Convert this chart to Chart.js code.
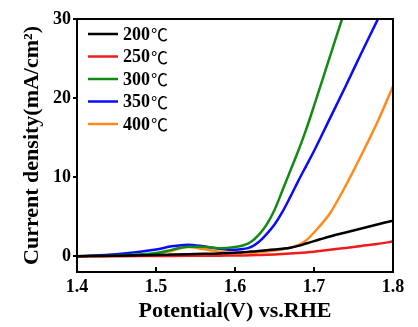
<!DOCTYPE html>
<html>
<head>
<meta charset="utf-8">
<script src="https://cdn.jsdelivr.net/npm/chart.js@4.4.1/dist/chart.umd.min.js"></script>
<style>
  html, body { margin: 0; padding: 0; background: #fff; }
  #wrap { width: 418px; height: 327px; }
</style>
</head>
<body>
<div id="wrap"><canvas id="lsv" width="418" height="327"></canvas></div>
<script>
// potential (V vs. RHE) sample points
var potential = [1.40, 1.45, 1.50, 1.52, 1.54, 1.56, 1.58, 1.60, 1.61, 1.62, 1.63, 1.64, 1.65, 1.66, 1.67, 1.68, 1.69, 1.70, 1.72, 1.74, 1.76, 1.78, 1.80];

// current density (mA/cm2)
var j200 = [0, 0.05, 0.15, 0.2, 0.25, 0.3, 0.35, 0.45, 0.5, 0.58, 0.65, 0.75, 0.85, 0.95, 1.08, 1.3, 1.6, 1.9, 2.5, 3.0, 3.5, 4.0, 4.5];
var j250 = [0, 0, 0.02, 0.03, 0.04, 0.05, 0.07, 0.09, 0.1, 0.12, 0.15, 0.18, 0.22, 0.27, 0.33, 0.4, 0.48, 0.57, 0.8, 1.05, 1.3, 1.55, 1.85];
var j300 = [0, 0.1, 0.4, 0.8, 1.2, 1.2, 1.0, 1.15, 1.35, 1.8, 2.7, 4.0, 5.85, 8.3, 10.8, 13.3, 16.0, 19.0, 25.2, 31.4, 37.6, 43.7, 50];
var j350 = [0, 0.25, 0.85, 1.25, 1.45, 1.25, 0.95, 0.8, 0.9, 1.15, 1.8, 2.8, 4.0, 5.6, 7.5, 9.5, 11.4, 13.3, 17.4, 21.5, 25.7, 29.8, 34];
var j400 = [0, 0.05, 0.3, 0.7, 1.15, 0.9, 0.55, 0.4, 0.42, 0.45, 0.52, 0.6, 0.72, 0.88, 1.08, 1.4, 2.0, 3.0, 5.4, 8.9, 12.8, 16.9, 21.5];

var seriesLabels = ['200\u2103', '250\u2103', '300\u2103', '350\u2103', '400\u2103'];
var seriesColours = ['#000000', '#ee1c1c', '#148a14', '#0a0aff', '#ff8a1c'];
var seriesValues = [j200, j250, j300, j350, j400];

var xTicks = [1.4, 1.5, 1.6, 1.7, 1.8];
var yTicks = [0, 10, 20, 30];

var serif = "'Liberation Serif', 'Times New Roman', serif";

function toPoints(values){
  return potential.map(function(v, i){ return {x: v, y: values[i]}; });
}

var datasets = seriesValues.map(function(values, i){
  return {
    label: seriesLabels[i],
    data: toPoints(values),
    borderColor: seriesColours[i],
    backgroundColor: seriesColours[i],
    borderWidth: 2.5,
    pointRadius: 0,
    cubicInterpolationMode: 'monotone',
    fill: false
  };
});

// box round the plot, inward x ticks, legend inside the plot
var framePlugin = {
  id: 'frame',
  afterDraw: function(chart){
    var ctx = chart.ctx;
    var area = chart.chartArea;
    var xs = chart.scales.x;
    ctx.save();
    ctx.strokeStyle = '#000';
    ctx.lineWidth = 2;
    ctx.strokeRect(area.left, area.top, area.right - area.left, area.bottom - area.top);

    ctx.beginPath();
    xs.ticks.forEach(function(t){
      var px = xs.getPixelForValue(t.value);
      ctx.moveTo(px, area.bottom);
      ctx.lineTo(px, area.bottom - 5);
    });
    ctx.stroke();

    ctx.textBaseline = 'middle';
    ctx.textAlign = 'left';
    chart.data.datasets.forEach(function(ds, i){
      var y = area.top + 15 + i * 22.5;
      var num = ds.label.replace('\u2103', '');
      ctx.strokeStyle = ds.borderColor;
      ctx.lineWidth = 2.5;
      ctx.beginPath();
      ctx.moveTo(area.left + 11, y);
      ctx.lineTo(area.left + 41, y);
      ctx.stroke();
      ctx.fillStyle = '#000';
      ctx.font = "bold 18px " + serif;
      ctx.fillText(num, area.left + 46, y + 1);
      var w = ctx.measureText(num).width;
      ctx.font = "17px 'Noto Sans CJK SC', 'DejaVu Sans'";
      ctx.fillText('\u2103', area.left + 47 + w, y + 1);
    });
    ctx.restore();
  }
};

new Chart(document.getElementById('lsv'), {
  type: 'line',
  data: {datasets: datasets},
  plugins: [framePlugin],
  options: {
    responsive: false,
    animation: false,
    layout: {padding: {top: 19, right: 25, left: 0, bottom: 0}},
    plugins: {
      legend: {display: false},
      tooltip: {enabled: false}
    },
    scales: {
      x: {
        type: 'linear',
        min: 1.4,
        max: 1.8,
        afterFit: function(scale){ scale.height = 55; },
        afterBuildTicks: function(scale){
          scale.ticks = xTicks.map(function(v){ return {value: v}; });
        },
        grid: {display: false, drawTicks: false},
        border: {display: false},
        ticks: {
          padding: 5,
          color: '#000',
          font: {family: serif, size: 18, weight: 'bold'},
          callback: function(v){ return v.toFixed(1); }
        },
        title: {
          display: true,
          text: 'Potential(V) vs.RHE',
          color: '#000',
          font: {family: serif, size: 22, weight: 'bold'},
          padding: {top: 0, bottom: 2}
        }
      },
      y: {
        min: -2,
        max: 30,
        afterFit: function(scale){ scale.width = 77; },
        afterBuildTicks: function(scale){
          scale.ticks = yTicks.map(function(v){ return {value: v}; });
        },
        grid: {
          drawOnChartArea: false,
          drawTicks: true,
          tickLength: 4,
          color: '#000',
          lineWidth: 2
        },
        border: {display: false},
        ticks: {
          padding: 2,
          color: '#000',
          font: {family: serif, size: 18, weight: 'bold'}
        },
        title: {
          display: true,
          text: 'Current density(mA/cm\u00b2)',
          color: '#000',
          font: {family: serif, size: 22, weight: 'bold'},
          padding: {top: 19, bottom: 0}
        }
      }
    }
  }
});
</script>
</body>
</html>
